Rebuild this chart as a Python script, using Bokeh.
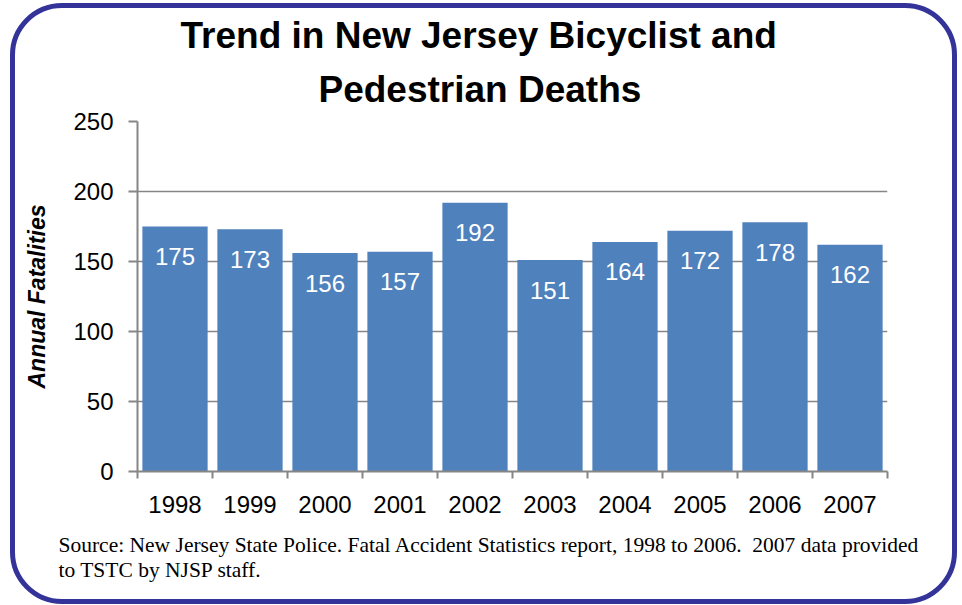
from bokeh.plotting import figure
from bokeh.models import (Range1d, LinearAxis, FixedTicker, Title, ColumnDataSource)
from bokeh.core.properties import value
from bokeh.embed import file_html
from bokeh.resources import INLINE

years = ["1998", "1999", "2000", "2001", "2002", "2003", "2004", "2005", "2006", "2007"]
deaths = [175, 173, 156, 157, 192, 151, 164, 172, 178, 162]
y_ticks = [0, 50, 100, 150, 200, 250]
title_lines = ["Trend in New Jersey Bicyclist and", "Pedestrian Deaths"]
y_label = "Annual Fatalities"
source_lines = ["Source: New Jersey State Police. Fatal Accident Statistics report, 1998 to 2006.\u00a0 2007 data provided",
                "to TSTC by NJSP staff."]

BAR = "#4F81BD"
GRAY = "#868686"
SANS = "Liberation Sans"

n = len(years)
centers = [i + 0.5 for i in range(n)]
src = ColumnDataSource(dict(x=centers, deaths=deaths, label=[str(d) for d in deaths]))

p = figure(width=947, height=601,
           x_range=Range1d(0, n),
           y_range=Range1d(0, 250),
           output_backend="svg", toolbar_location=None,
           x_axis_location=None,
           min_border_left=122, min_border_right=75,
           min_border_top=113, min_border_bottom=138)
p.styles = {"border": "5px solid #333399", "border-radius": "52px",
            "margin": "3px 0px 0px 10px", "overflow": "hidden"}
p.outline_line_color = None
p.background_fill_color = "white"
p.border_fill_color = None
p.xgrid.grid_line_color = None
p.ygrid.grid_line_color = GRAY
p.ygrid.grid_line_width = 1.5
p.ygrid.ticker = FixedTicker(ticks=y_ticks)

# y axis
ya = p.yaxis[0]
ya.ticker = FixedTicker(ticks=y_ticks)
ya.axis_line_color = GRAY
ya.axis_line_width = 2
ya.major_tick_line_color = GRAY
ya.major_tick_line_width = 2
ya.major_tick_out = 9
ya.major_tick_in = 0
ya.minor_tick_line_color = None
ya.major_label_text_font = SANS
ya.major_label_text_font_size = "24px"
ya.major_label_text_color = "black"
ya.major_label_standoff = 15
ya.axis_label = y_label
ya.axis_label_text_font = SANS
ya.axis_label_text_font_style = "bold italic"
ya.axis_label_text_font_size = "23px"
ya.axis_label_text_color = "black"
ya.axis_label_standoff = 20

# x axis: ticks at category boundaries
ea = LinearAxis(ticker=FixedTicker(ticks=list(range(n + 1))))
ea.axis_line_color = GRAY
ea.axis_line_width = 2
ea.major_tick_line_color = GRAY
ea.major_tick_line_width = 2
ea.major_tick_out = 7
ea.major_tick_in = 0
ea.minor_tick_line_color = None
ea.major_label_overrides = {i: "" for i in range(n + 1)}
ea.major_label_text_font_size = "1px"
ea.major_label_standoff = 0
p.add_layout(ea, "below")

# x axis: year labels at category centres
ca = LinearAxis(ticker=FixedTicker(ticks=centers),
                major_label_overrides={c: y for c, y in zip(centers, years)})
ca.axis_line_color = None
ca.major_tick_line_color = None
ca.minor_tick_line_color = None
ca.major_label_text_font = SANS
ca.major_label_text_font_size = "24px"
ca.major_label_text_color = "black"
ca.major_label_standoff = 11
p.add_layout(ca, "below")

p.vbar(x="x", top="deaths", width=0.87, source=src, fill_color=BAR, line_color=None)

p.text(x="x", y="deaths", text="label", source=src, text_color="white",
       text_font=value(SANS), text_font_size="24px", text_align="center",
       text_baseline="middle", y_offset=30)

# title (two lines; the one added first sits nearest the plot)
p.title.text = ""
p.title.visible = False
p.add_layout(Title(text=title_lines[1], align="left", offset=181, standoff=23,
                   text_font=SANS, text_font_style="bold", text_font_size="37px",
                   text_color="black"), "above")
p.add_layout(Title(text=title_lines[0], align="left", offset=43, standoff=0,
                   text_font=SANS, text_font_style="bold", text_font_size="37px",
                   text_color="black"), "above")

# source note
p.add_layout(Title(text="\n".join(source_lines), align="left", offset=-79, standoff=31,
                   text_font="Liberation Serif", text_font_style="normal", text_font_size="21.5px",
                   text_line_height=1.05, text_color="black"), "below")

open("out.html", "w").write(file_html(p, INLINE))
